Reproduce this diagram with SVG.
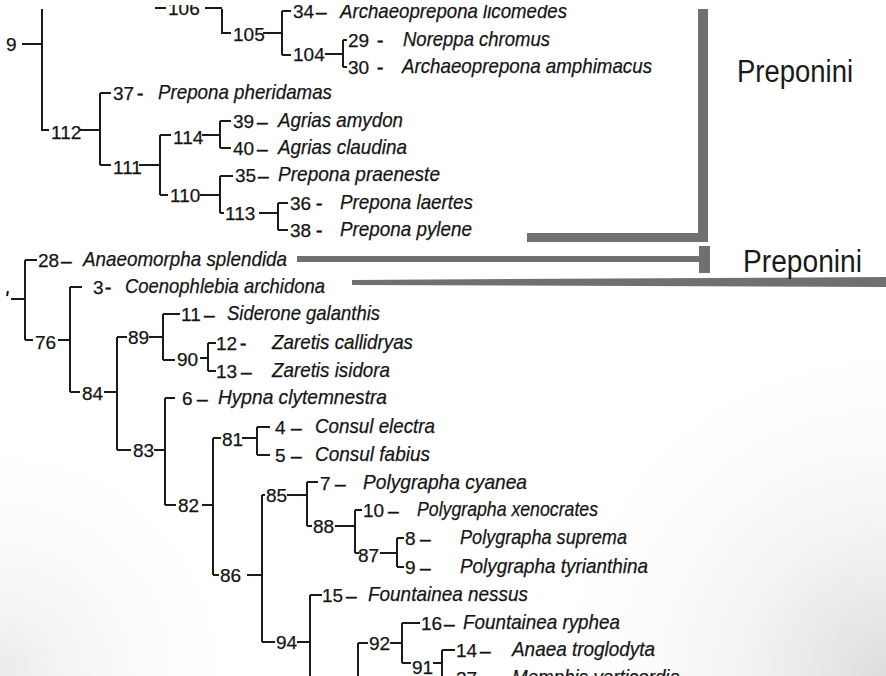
<svg xmlns="http://www.w3.org/2000/svg" width="886" height="676" viewBox="0 0 886 676">
<defs>
<radialGradient id="shade" cx="886" cy="676" r="360" gradientUnits="userSpaceOnUse">
<stop offset="0" stop-color="#d4d4d4" stop-opacity="0.8"/>
<stop offset="1" stop-color="#ffffff" stop-opacity="0"/>
</radialGradient>
<radialGradient id="shade2" cx="0" cy="676" r="260" gradientUnits="userSpaceOnUse">
<stop offset="0" stop-color="#e2e2e2" stop-opacity="0.7"/>
<stop offset="1" stop-color="#ffffff" stop-opacity="0"/>
</radialGradient>
</defs>
<style>
.n{font-family:"Liberation Sans",Arial,sans-serif;font-size:19px;fill:#151515;stroke:#151515;stroke-width:0.25}
.s{font-family:"Liberation Sans",Arial,sans-serif;font-size:21px;font-style:italic;fill:#151515;stroke:#151515;stroke-width:0.25}
.d{font-family:"Liberation Sans",Arial,sans-serif;font-size:19px;fill:#151515;stroke:#151515;stroke-width:0.6}
.e{stroke:#1a1a1a;stroke-width:2;fill:none}
.g{fill:#707070}
.t{font-family:"Liberation Sans",Arial,sans-serif;font-size:31px;fill:#1a1a1a}
</style>
<rect width="886" height="676" fill="#ffffff"/>
<rect width="886" height="676" fill="url(#shade)"/>
<rect width="886" height="676" fill="url(#shade2)"/>

<g id="connectors" class="e">
<path d="M22,44 H42 M42,9 V130 H49 M80,130 H100 M100,93 V165 M100,93 H111 M100,165 H111"/>
<path d="M139,165 H160 M160,135 V195 M160,135 H171 M160,195 H168"/>
<path d="M202,135 H220 M220,121 V148 M220,121 H231 M220,148 H231"/>
<path d="M200,195 H220 M220,176 V213 M220,176 H233 M220,213 H224"/>
<path d="M259,213 H278 M278,203 V230 M278,203 H288 M278,230 H288"/>
<path d="M155,8 H166 M205,8 H222 M222,9 V33 H231"/>
<path d="M263,33 H282 M282,11 V55 M282,11 H291 M282,55 H291"/>
<path d="M325,54 H343 M343,40 V67 M343,40 H347 M343,67 H347"/>
<path d="M8,291 L7,296 M11,299 H25 M25,260 V340 M25,260 H37 M25,340 H33"/>
<path d="M58,340 H70 M70,287 V392 M70,287 H82 M70,392 H80"/>
<path d="M104,392 H117 M117,337 V450 M117,337 H127 M117,450 H131"/>
<path d="M149,337 H163 M163,314 V360 M163,314 H180 M163,360 H175"/>
<path d="M200,358 H208 M208,343 V371 M208,343 H216 M208,371 H216"/>
<path d="M154,450 H165 M165,398 V505 M165,398 H175 M165,505 H176"/>
<path d="M202,505 H213 M213,438 V575 M213,438 H221 M213,575 H219"/>
<path d="M242,438 H257 M257,427 V455 M257,427 H270 M257,455 H270"/>
<path d="M247,575 H262 M262,495 V642 M262,495 H265 M262,642 H275"/>
<path d="M287,495 H307 M307,482 V526 M307,482 H318 M307,526 H312"/>
<path d="M335,526 H355 M355,510 V553 M355,510 H362 M355,553 H359"/>
<path d="M380,553 H397 M397,538 V567 M397,538 H404 M397,567 H404"/>
<path d="M297,642 H310 M310,595 V680 M310,595 H322"/>
<path d="M358,643 V680 M358,643 H368"/>
<path d="M390,643 H402 M402,623 V663 M402,623 H420 M402,663 H411"/>
<path d="M433,663 H442 M442,650 V680 M442,650 H455"/>
</g>

<g id="brackets-gray">
<rect class="g" x="698" y="9" width="10" height="233"/>
<rect class="g" x="527" y="233" width="181" height="9"/>
<rect class="g" x="297" y="256" width="405" height="6"/>
<rect class="g" x="699" y="246" width="11" height="27"/>
<polygon class="g" points="352,280 886,277 886,287 352,285"/>
</g>

<g id="label-preponini-1"><text class="t" x="737" y="82" textLength="116" lengthAdjust="spacingAndGlyphs">Preponini</text></g>
<g id="label-preponini-2"><text class="t" x="743" y="272" textLength="119" lengthAdjust="spacingAndGlyphs">Preponini</text></g>

<!-- internal nodes, top tree -->
<g id="node-9"><text class="n" x="6" y="51">9</text></g>
<g id="node-112"><text class="n" x="51" y="139">112</text></g>
<g id="node-111"><text class="n" x="113" y="174">111</text></g>
<g id="node-114"><text class="n" x="173" y="144">114</text></g>
<g id="node-110"><text class="n" x="170" y="202">110</text></g>
<g id="node-113"><text class="n" x="225" y="220">113</text></g>
<g id="node-106"><text class="n" x="168" y="15">106</text></g>
<g id="node-105"><text class="n" x="233" y="41">105</text></g>
<g id="node-104"><text class="n" x="293" y="61">104</text></g>

<!-- leaves, top tree -->
<g id="leaf-34"><text class="n" x="293" y="18">34</text><text class="d" x="316" y="18">–</text><text class="s" x="340" y="18" textLength="227" lengthAdjust="spacingAndGlyphs">Archaeoprepona licomedes</text></g>
<g id="leaf-29"><text class="n" x="348" y="47">29</text><text class="d" x="377" y="47">-</text><text class="s" x="403" y="46" textLength="147" lengthAdjust="spacingAndGlyphs">Noreppa chromus</text></g>
<g id="leaf-30"><text class="n" x="348" y="74">30</text><text class="d" x="377" y="74">-</text><text class="s" x="402" y="73" textLength="250" lengthAdjust="spacingAndGlyphs">Archaeoprepona amphimacus</text></g>
<g id="leaf-37"><text class="n" x="113" y="100">37</text><text class="d" x="137" y="100">-</text><text class="s" x="158" y="99" textLength="174" lengthAdjust="spacingAndGlyphs">Prepona pheridamas</text></g>
<g id="leaf-39"><text class="n" x="233" y="128">39</text><text class="d" x="257" y="128">–</text><text class="s" x="278" y="127" textLength="125" lengthAdjust="spacingAndGlyphs">Agrias amydon</text></g>
<g id="leaf-40"><text class="n" x="233" y="155">40</text><text class="d" x="257" y="155">–</text><text class="s" x="278" y="154" textLength="129" lengthAdjust="spacingAndGlyphs">Agrias claudina</text></g>
<g id="leaf-35"><text class="n" x="235" y="182">35</text><text class="d" x="258" y="182">–</text><text class="s" x="278" y="181" textLength="162" lengthAdjust="spacingAndGlyphs">Prepona praeneste</text></g>
<g id="leaf-36"><text class="n" x="290" y="210">36</text><text class="d" x="316" y="210">-</text><text class="s" x="340" y="209" textLength="133" lengthAdjust="spacingAndGlyphs">Prepona laertes</text></g>
<g id="leaf-38"><text class="n" x="290" y="237">38</text><text class="d" x="316" y="237">-</text><text class="s" x="340" y="236" textLength="132" lengthAdjust="spacingAndGlyphs">Prepona pylene</text></g>

<!-- internal nodes, bottom tree -->
<g id="node-76"><text class="n" x="35" y="349">76</text></g>
<g id="node-84"><text class="n" x="82" y="400">84</text></g>
<g id="node-89"><text class="n" x="128" y="344">89</text></g>
<g id="node-90"><text class="n" x="177" y="366">90</text></g>
<g id="node-83"><text class="n" x="133" y="457">83</text></g>
<g id="node-82"><text class="n" x="178" y="512">82</text></g>
<g id="node-81"><text class="n" x="222" y="446">81</text></g>
<g id="node-86"><text class="n" x="220" y="582">86</text></g>
<g id="node-85"><text class="n" x="266" y="502">85</text></g>
<g id="node-88"><text class="n" x="313" y="533">88</text></g>
<g id="node-87"><text class="n" x="358" y="562">87</text></g>
<g id="node-94"><text class="n" x="276" y="649">94</text></g>
<g id="node-92"><text class="n" x="369" y="650">92</text></g>
<g id="node-91"><text class="n" x="412" y="674">91</text></g>

<!-- leaves, bottom tree -->
<g id="leaf-28"><text class="n" x="38" y="267">28</text><text class="d" x="61" y="267">–</text><text class="s" x="83" y="266" textLength="204" lengthAdjust="spacingAndGlyphs">Anaeomorpha splendida</text></g>
<g id="leaf-3"><text class="n" x="93" y="294">3</text><text class="d" x="105" y="294">-</text><text class="s" x="125" y="293" textLength="200" lengthAdjust="spacingAndGlyphs">Coenophlebia archidona</text></g>
<g id="leaf-11"><text class="n" x="181" y="321">11</text><text class="d" x="204" y="321">–</text><text class="s" x="227" y="320" textLength="153" lengthAdjust="spacingAndGlyphs">Siderone galanthis</text></g>
<g id="leaf-12"><text class="n" x="216" y="350">12</text><text class="d" x="240" y="350">-</text><text class="s" x="272" y="349" textLength="141" lengthAdjust="spacingAndGlyphs">Zaretis callidryas</text></g>
<g id="leaf-13"><text class="n" x="216" y="378">13</text><text class="d" x="241" y="378">–</text><text class="s" x="272" y="377" textLength="118" lengthAdjust="spacingAndGlyphs">Zaretis isidora</text></g>
<g id="leaf-6"><text class="n" x="182" y="405">6</text><text class="d" x="197" y="405">–</text><text class="s" x="218" y="404" textLength="169" lengthAdjust="spacingAndGlyphs">Hypna clytemnestra</text></g>
<g id="leaf-4"><text class="n" x="275" y="434">4</text><text class="d" x="291" y="434">–</text><text class="s" x="315" y="433" textLength="120" lengthAdjust="spacingAndGlyphs">Consul electra</text></g>
<g id="leaf-5"><text class="n" x="275" y="462">5</text><text class="d" x="291" y="462">–</text><text class="s" x="315" y="461" textLength="115" lengthAdjust="spacingAndGlyphs">Consul fabius</text></g>
<g id="leaf-7"><text class="n" x="320" y="490">7</text><text class="d" x="335" y="490">–</text><text class="s" x="363" y="489" textLength="164" lengthAdjust="spacingAndGlyphs">Polygrapha cyanea</text></g>
<g id="leaf-10"><text class="n" x="363" y="517">10</text><text class="d" x="388" y="517">–</text><text class="s" x="417" y="516" textLength="181" lengthAdjust="spacingAndGlyphs">Polygrapha xenocrates</text></g>
<g id="leaf-8"><text class="n" x="405" y="545">8</text><text class="d" x="420" y="545">–</text><text class="s" x="460" y="544" textLength="167" lengthAdjust="spacingAndGlyphs">Polygrapha suprema</text></g>
<g id="leaf-9"><text class="n" x="405" y="574">9</text><text class="d" x="420" y="574">–</text><text class="s" x="460" y="573" textLength="188" lengthAdjust="spacingAndGlyphs">Polygrapha tyrianthina</text></g>
<g id="leaf-15"><text class="n" x="322" y="602">15</text><text class="d" x="346" y="602">–</text><text class="s" x="368" y="601" textLength="160" lengthAdjust="spacingAndGlyphs">Fountainea nessus</text></g>
<g id="leaf-16"><text class="n" x="421" y="630">16</text><text class="d" x="444" y="630">–</text><text class="s" x="463" y="629" textLength="157" lengthAdjust="spacingAndGlyphs">Fountainea ryphea</text></g>
<g id="leaf-14"><text class="n" x="456" y="657">14</text><text class="d" x="480" y="657">–</text><text class="s" x="512" y="656" textLength="143" lengthAdjust="spacingAndGlyphs">Anaea troglodyta</text></g>
<g id="leaf-27"><text class="n" x="456" y="685">27</text><text class="d" x="480" y="685">–</text><text class="s" x="512" y="684" textLength="168" lengthAdjust="spacingAndGlyphs">Memphis verticordia</text></g>

<rect x="0" y="0" width="886" height="5" fill="#ffffff"/>
</svg>
